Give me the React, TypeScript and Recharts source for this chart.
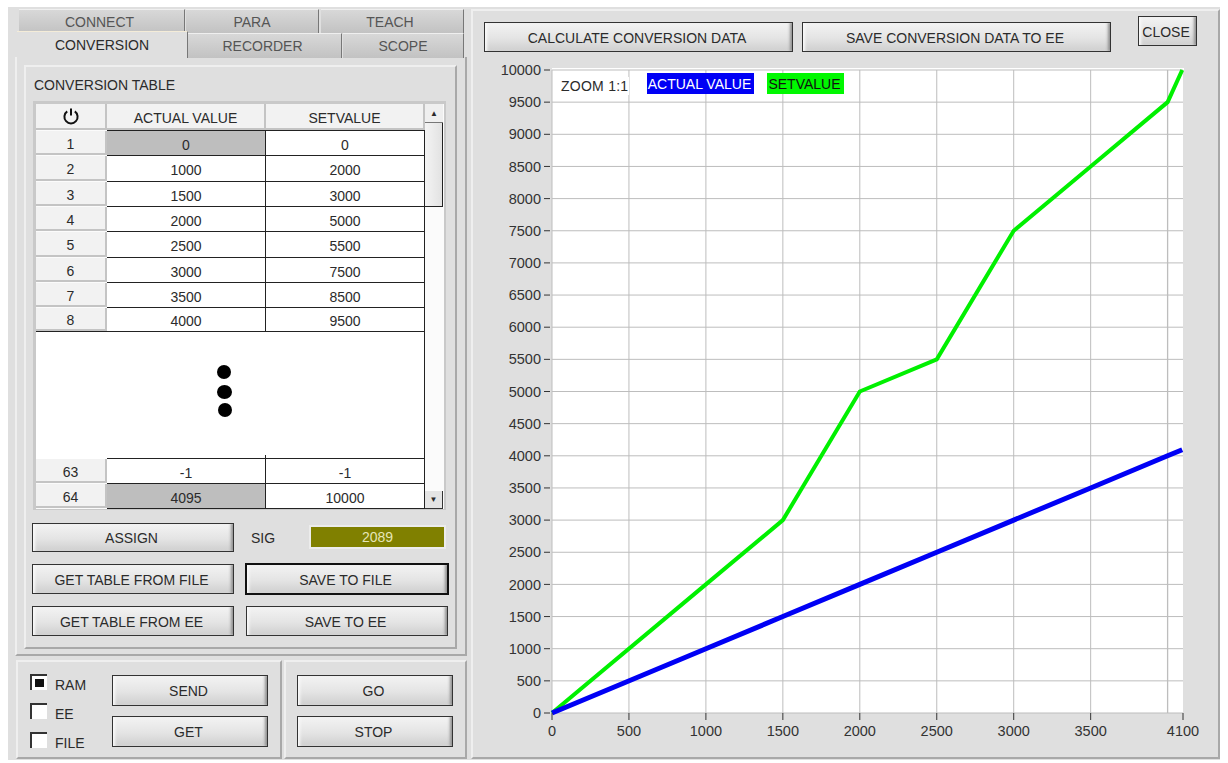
import { CSSProperties, ReactNode } from "react";
import { CartesianGrid, Line, LineChart, ReferenceLine, XAxis, YAxis } from "recharts";

const actualValues = [0, 1000, 1500, 2000, 2500, 3000, 3500, 4000, 4095];
const setValues = [0, 2000, 3000, 5000, 5500, 7500, 8500, 9500, 10000];
const xTicks = [0, 500, 1000, 1500, 2000, 2500, 3000, 3500, 4100];
const yTicks = [
  0, 500, 1000, 1500, 2000, 2500, 3000, 3500, 4000, 4500, 5000, 5500, 6000, 6500, 7000, 7500, 8000,
  8500, 9000, 9500, 10000,
];
const extraGridX = 4000;

const topRowNumbers = [1, 2, 3, 4, 5, 6, 7, 8];
const topRowActual = ["0", "1000", "1500", "2000", "2500", "3000", "3500", "4000"];
const topRowSet = ["0", "2000", "3000", "5000", "5500", "7500", "8500", "9500"];
const topRowTops = [131, 156, 182, 207, 232, 258, 283, 308, 332];

const chartData = actualValues.map((actual, i) => ({ actual, set: setValues[i] }));

const FONT = "'Liberation Sans', Arial, sans-serif";
const PANEL = "#dfdfdf";
const TEXT = "#2b2b2b";
const GRID_V = "#bdbdbd";
const GRID_H = "#d2d2d2";
const BLUE = "#0000f5";
const GREEN = "#00f000";

function Box({ x, y, w, h, style, children }: { x: number; y: number; w: number; h: number; style?: CSSProperties; children?: ReactNode }) {
  return (
    <div
      style={{
        position: "absolute",
        left: x,
        top: y,
        width: w,
        height: h,
        boxSizing: "border-box",
        display: "flex",
        alignItems: "center",
        justifyContent: "center",
        whiteSpace: "nowrap",
        ...style,
      }}
    >
      {children}
    </div>
  );
}

function Btn({ x, y, w, h, label, thick }: { x: number; y: number; w: number; h: number; label: string; thick?: boolean }) {
  return (
    <Box
      x={x}
      y={y}
      w={w}
      h={h}
      style={{
        border: thick ? "2px solid #111" : "1px solid #333",
        paddingRight: 3,
        paddingTop: 1,
        background: "linear-gradient(#f3f3f3, #e4e4e4 55%, #cfcfcf)",
        boxShadow: "inset 3px 0 3px -1px #fafafa, inset -4px 0 3px -2px #8f8f8f",
      }}
    >
      {label}
    </Box>
  );
}

function Tab({ x, y, w, h, label, active, shift }: { x: number; y: number; w: number; h: number; label: string; active?: boolean; shift?: number }) {
  return (
    <Box
      x={x}
      y={y}
      w={w}
      h={h}
      style={{
        color: active ? TEXT : "#555",
        paddingRight: shift ?? 0,
        background: active ? PANEL : "linear-gradient(#d8d8d8, #c2c2c2)",
        borderTop: active ? "1px solid #f4ecd8" : "1px solid #efefef",
        borderRight: "1px solid #777",
        zIndex: active ? 2 : 1,
      }}
    >
      {label}
    </Box>
  );
}

function Group({ x, y, w, h }: { x: number; y: number; w: number; h: number }) {
  return (
    <Box
      x={x}
      y={y}
      w={w}
      h={h}
      style={{
        background: PANEL,
        borderTop: "2px solid #efefef",
        borderLeft: "2px solid #efefef",
        borderRight: "2px solid #a8a8a8",
        borderBottom: "2px solid #a8a8a8",
      }}
    />
  );
}

function HeaderCell({ x, y, w, h, label, pad }: { x: number; y: number; w: number; h: number; label: ReactNode; pad?: number }) {
  return (
    <Box
      x={x}
      y={y}
      w={w}
      h={h}
      style={{
        background: "#f2f2f2",
        paddingTop: pad ?? 3,
        borderRight: "2px solid #c4c4c4",
        borderBottom: "2px solid #c4c4c4",
      }}
    >
      {label}
    </Box>
  );
}

function TableRow({ top, next, num, actual, set, grayActual }: { top: number; next: number; num: string; actual: string; set: string; grayActual?: boolean }) {
  const h = next - top;
  return (
    <>
      <HeaderCell x={36} y={top} w={71} h={h - 1} label={num} />
      <Box
        x={107}
        y={top - 1}
        w={159}
        h={h}
        style={{
          background: grayActual ? "#bebebe" : "#fff",
          paddingTop: 3,
          borderTop: "1px solid #222",
          borderRight: "1px solid #222",
        }}
      >
        {actual}
      </Box>
      <Box
        x={266}
        y={top - 1}
        w={159}
        h={h}
        style={{ background: "#fff", paddingTop: 3, borderTop: "1px solid #222", borderRight: "1px solid #222" }}
      >
        {set}
      </Box>
    </>
  );
}

function Check({ y, label, checked }: { y: number; label: string; checked?: boolean }) {
  return (
    <>
      <Box
        x={30}
        y={y}
        w={17}
        h={16}
        style={{
          background: "#fff",
          borderTop: "2px solid #333",
          borderLeft: "2px solid #333",
        }}
      >
        {checked && <div style={{ width: 9, height: 8, background: "#111" }} />}
      </Box>
      <Box x={55} y={y + 1} w={34} h={20} style={{ justifyContent: "flex-start" }}>
        {label}
      </Box>
    </>
  );
}

function PowerIcon() {
  return (
    <svg width={18} height={18} viewBox="0 0 18 18">
      <path d="M5.2 4.4 A6.6 6.6 0 1 0 12.8 4.4" fill="none" stroke="#111" strokeWidth={2} />
      <line x1={9} y1={1.5} x2={9} y2={8.5} stroke="#111" strokeWidth={2} />
    </svg>
  );
}

export default function App() {
  return (
    <div
      style={{
        position: "absolute",
        left: 0,
        top: 0,
        width: 1228,
        height: 763,
        overflow: "hidden",
        background: "#fff",
        fontFamily: FONT,
        fontSize: 14,
        color: TEXT,
      }}
    >
      <Box x={8} y={7} w={1212} h={753} style={{ background: PANEL }} />

      {/* tabs */}
      <Tab x={19} y={9} w={166} h={24} label="CONNECT" shift={4} />
      <Tab x={186} y={9} w={133} h={24} label="PARA" />
      <Tab x={321} y={9} w={143} h={24} label="TEACH" shift={4} />
      <Tab x={17} y={31} w={171} h={27} label="CONVERSION" active />
      <Tab x={188} y={33} w={154} h={25} label="RECORDER" shift={4} />
      <Tab x={343} y={33} w={121} h={25} label="SCOPE" />

      {/* left side */}
      <Box x={15} y={57} w={452} h={599} style={{ borderRight: "2px solid #a8a8a8", borderBottom: "2px solid #a8a8a8", borderLeft: "2px solid #efefef" }} />
      <Group x={24} y={65} w={433} h={584} />
      <Box x={34} y={76} w={150} h={18} style={{ justifyContent: "flex-start" }}>
        CONVERSION TABLE
      </Box>

      {/* table */}
      <Box x={33} y={101} w={413} h={409} style={{ background: "#c9c9c9" }} />
      <Box x={36} y={104} w={408} h={405} style={{ background: "#fbfbfb" }} />
      <HeaderCell x={36} y={104} w={71} h={26} label={<PowerIcon />} pad={0} />
      <HeaderCell x={107} y={104} w={159} h={26} label="ACTUAL VALUE" />
      <HeaderCell x={266} y={104} w={159} h={26} label="SETVALUE" />
      {topRowNumbers.map((n, i) => (
        <TableRow
          key={n}
          top={topRowTops[i]}
          next={topRowTops[i + 1]}
          num={String(n)}
          actual={topRowActual[i]}
          set={topRowSet[i]}
          grayActual={i === 0}
        />
      ))}
      <Box x={36} y={331} w={389} h={128} style={{ background: "#fff", borderTop: "1px solid #222", borderRight: "1px solid #222" }} />
      <Box x={217} y={365} w={14} h={14} style={{ background: "#000", borderRadius: "50%" }} />
      <Box x={217} y={385} w={15} h={14} style={{ background: "#000", borderRadius: "50%" }} />
      <Box x={218} y={403} w={14} h={14} style={{ background: "#000", borderRadius: "50%" }} />
      <TableRow top={459} next={484} num="63" actual="-1" set="-1" />
      <TableRow top={484} next={509} num="64" actual="4095" set="10000" grayActual />
      <Box x={107} y={508} w={318} h={1} style={{ background: "#222" }} />
      <Box x={265} y={455} w={1} h={4} style={{ background: "#222" }} />

      {/* scrollbar */}
      <Box x={425} y={104} w={18} h={19} style={{ background: "#efefef", fontSize: 8, borderBottom: "1px solid #777" }}>
        ▲
      </Box>
      <Box x={425} y={123} w={18} h={84} style={{ background: "linear-gradient(90deg, #f4f4f4, #e2e2e2)", borderRight: "1px solid #222", borderBottom: "1px solid #222" }} />
      <Box x={425} y={491} w={18} h={18} style={{ background: "#e4e4e4", fontSize: 8, borderRight: "1px solid #333", borderBottom: "1px solid #333" }}>
        ▼
      </Box>

      <Btn x={32} y={523} w={202} h={29} label="ASSIGN" />
      <Box x={250} y={528} w={26} h={20}>
        SIG
      </Box>
      <Box x={309} y={525} w={137} h={24} style={{ background: "#808000", color: "#e6e6b8", border: "2px solid #ececec" }}>
        2089
      </Box>
      <Btn x={32} y={564} w={202} h={30} label="GET TABLE FROM FILE" />
      <Btn x={245} y={563} w={204} h={32} label="SAVE TO FILE" thick />
      <Btn x={32} y={606} w={202} h={30} label="GET TABLE FROM EE" />
      <Btn x={246} y={606} w={202} h={30} label="SAVE TO EE" />

      {/* bottom panels */}
      <Group x={16} y={660} w={266} h={99} />
      <Group x={284} y={660} w={183} h={99} />
      <Check y={674} label="RAM" checked />
      <Check y={703} label="EE" />
      <Check y={732} label="FILE" />
      <Btn x={112} y={675} w={156} h={31} label="SEND" />
      <Btn x={112} y={716} w={156} h={31} label="GET" />
      <Btn x={297} y={675} w={156} h={31} label="GO" />
      <Btn x={297} y={716} w={156} h={31} label="STOP" />

      {/* right side */}
      <Group x={471} y={9} w={749} h={750} />
      <Btn x={484} y={22} w={309} h={30} label="CALCULATE CONVERSION DATA" />
      <Btn x={802} y={22} w={309} h={30} label="SAVE CONVERSION DATA TO EE" />
      <Btn x={1138} y={16} w={59} h={30} label="CLOSE" />

      <Box x={552} y={68} w={632} h={3} style={{ background: "#fff" }} />
      <div style={{ position: "absolute", left: 470, top: 0 }}>
        <LineChart
          width={758}
          height={763}
          data={chartData}
          margin={{ top: 70, right: 45, bottom: 20, left: 22 }}
        >
          <CartesianGrid
            fill="#fff"
            horizontal={{ stroke: GRID_H, strokeWidth: 2 }}
            vertical={{ stroke: GRID_V, strokeWidth: 1.3 }}
            stroke={GRID_V}
            horizontalValues={yTicks}
            verticalValues={xTicks.slice(0, -1)}
          />
          <ReferenceLine x={extraGridX} stroke={GRID_V} strokeWidth={1.3} />
          <XAxis
            dataKey="actual"
            type="number"
            domain={[0, 4100]}
            ticks={xTicks}
            interval={0}
            height={30}
            axisLine={false}
            tickSize={7}
            tickMargin={6}
            tickLine={{ stroke: "#333" }}
            tick={{ fill: "#333", fontSize: 14.5, fontFamily: FONT }}
          />
          <YAxis
            type="number"
            domain={[0, 10000]}
            ticks={yTicks}
            interval={0}
            width={60}
            axisLine={false}
            tickSize={8}
            tickMargin={3}
            tickLine={{ stroke: "#333", strokeDasharray: "6 2" }}
            tick={{ fill: "#333", fontSize: 14.5, fontFamily: FONT }}
          />
          <Line dataKey="set" stroke={GREEN} strokeWidth={4} dot={false} isAnimationActive={false} />
          <Line dataKey="actual" stroke={BLUE} strokeWidth={5} dot={false} isAnimationActive={false} />
        </LineChart>
      </div>

      {/* legend labels over the plot */}
      <Box x={561} y={77} w={68} h={18} style={{ background: "#fff", justifyContent: "flex-start", letterSpacing: 0.25 }}>
        ZOOM 1:1
      </Box>
      <Box x={647} y={73} w={107} h={21} style={{ background: BLUE, color: "#fff", paddingTop: 1, paddingRight: 2 }}>
        ACTUAL VALUE
      </Box>
      <Box x={767} y={73} w={77} h={21} style={{ background: "#00f800", color: "#111", paddingTop: 1, paddingRight: 2 }}>
        SETVALUE
      </Box>
    </div>
  );
}
